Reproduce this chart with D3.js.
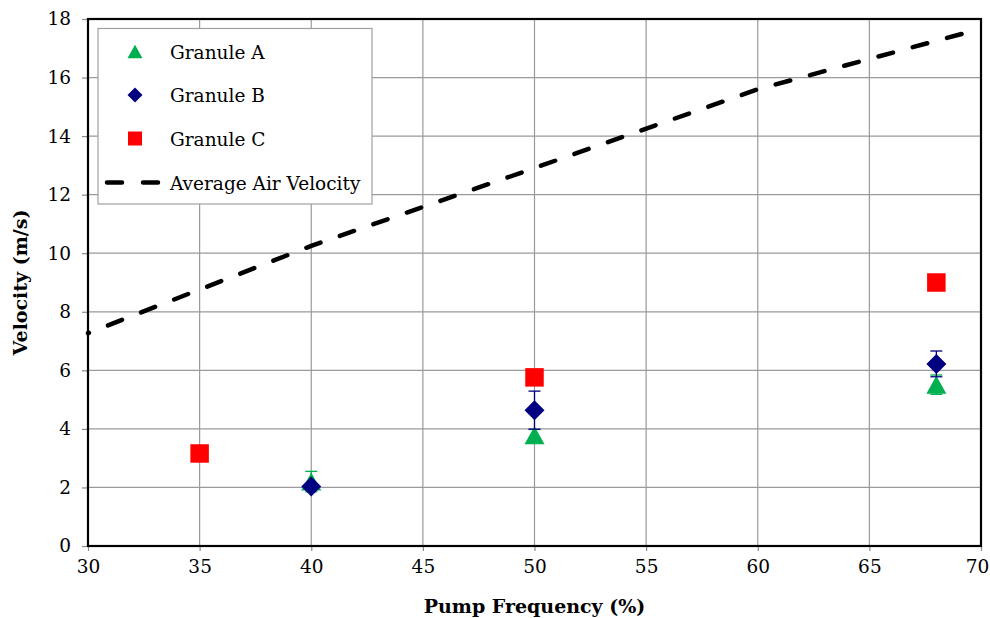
<!DOCTYPE html>
<html>
<head>
<meta charset="utf-8">
<script src="https://cdn.jsdelivr.net/npm/d3@7"></script>
<style>
  body { margin: 0; background: #fff; }
</style>
</head>
<body>
<div id="chart"></div>
<script>
// pump frequency (%) and measured velocities (m/s)
const granuleA = [
  { x: 40, y: 2.2, err: 0.35 },
  { x: 50, y: 3.78, err: 0.2 },
  { x: 68, y: 5.51, err: 0.33 },
];
const granuleB = [
  { x: 40, y: 2.03, err: 0.1 },
  { x: 50, y: 4.64, err: 0.65 },
  { x: 68, y: 6.22, err: 0.44 },
];
const granuleC = [
  { x: 35, y: 3.16, err: 0 },
  { x: 50, y: 5.76, err: 0 },
  { x: 68, y: 9.0, err: 0 },
];
const airFreq = [30, 40, 50, 60, 70];
const airVelocity = [7.27, 10.25, 12.91, 15.6, 17.67];

const xTicks = [30, 35, 40, 45, 50, 55, 60, 65, 70];
const yTicks = [0, 2, 4, 6, 8, 10, 12, 14, 16, 18];

// no Times here, DejaVu Serif is the closest serif face
const FONT = "'DejaVu Serif', serif";

const W = 990;
const H = 618;
const margin = { top: 19, right: 9, bottom: 72, left: 88 };
const width = W - margin.left - margin.right;
const height = H - margin.top - margin.bottom;

const svg = d3
  .select('#chart')
  .append('svg')
  .attr('width', W)
  .attr('height', H)
  .style('display', 'block')
  .attr('font-family', FONT);

const g = svg
  .append('g')
  .attr('transform', `translate(${margin.left},${margin.top})`);

const x = d3.scaleLinear().domain([30, 70]).range([0, width]);
const y = d3.scaleLinear().domain([0, 18]).range([height, 0]);

// grid
g.append('g')
  .selectAll('line')
  .data(xTicks)
  .join('line')
  .attr('x1', (d) => x(d))
  .attr('x2', (d) => x(d))
  .attr('y1', 0)
  .attr('y2', height)
  .attr('stroke', '#9a9a9a')
  .attr('stroke-width', 1.2);

g.append('g')
  .selectAll('line')
  .data(yTicks)
  .join('line')
  .attr('x1', 0)
  .attr('x2', width)
  .attr('y1', (d) => y(d))
  .attr('y2', (d) => y(d))
  .attr('stroke', '#9a9a9a')
  .attr('stroke-width', 1.2);

// axes
const xAxis = g
  .append('g')
  .attr('transform', `translate(0,${height})`)
  .call(d3.axisBottom(x).tickValues(xTicks).tickSize(5).tickPadding(9));
const yAxis = g
  .append('g')
  .call(d3.axisLeft(y).tickValues(yTicks).tickSize(6).tickPadding(11));

[xAxis, yAxis].forEach((a) => {
  a.attr('font-family', FONT);
  a.select('.domain').remove();
  a.selectAll('line').attr('stroke', '#8a8a8a').attr('stroke-width', 1.2);
  a.selectAll('text')
    .attr('font-size', 18.5)
    .attr('fill', '#000');
});

// keep the last x label inside the page
xAxis.selectAll('text').filter((d) => d === 70).attr('dx', -4);

// plot frame
g.append('rect')
  .attr('width', width)
  .attr('height', height)
  .attr('fill', 'none')
  .attr('stroke', '#000')
  .attr('stroke-width', 2.2);

// axis titles
svg
  .append('text')
  .attr('x', margin.left + width / 2)
  .attr('y', 613)
  .attr('text-anchor', 'middle')
  .attr('font-weight', 'bold')
  .attr('font-size', 19)
  .text('Pump Frequency (%)');

svg
  .append('text')
  .attr('transform', `translate(27,${margin.top + height / 2}) rotate(-90)`)
  .attr('text-anchor', 'middle')
  .attr('font-weight', 'bold')
  .attr('font-size', 19)
  .text('Velocity (m/s)');

// average air velocity
const line = d3
  .line()
  .x((d, i) => x(airFreq[i]))
  .y((d) => y(d));

g.append('path')
  .datum(airVelocity)
  .attr('d', line)
  .attr('fill', 'none')
  .attr('stroke', '#000')
  .attr('stroke-width', 4.5)
  .attr('stroke-linecap', 'round')
  .attr('stroke-dasharray', '15,20.5')
  .attr('stroke-dashoffset', 14);

// markers
const series = [
  { name: 'Granule A', data: granuleA, color: '#00b050', shape: 'tri', size: 20 },
  { name: 'Granule B', data: granuleB, color: '#000080', shape: 'dia', size: 20 },
  { name: 'Granule C', data: granuleC, color: '#ff0000', shape: 'sq', size: 18.5 },
];

const markerPath = (shape, s) => {
  const h = s / 2;
  if (shape === 'tri') return `M0,${-h * 0.9}L${h},${h * 0.9}L${-h},${h * 0.9}Z`;
  if (shape === 'dia') return `M0,${-h}L${h},0L0,${h}L${-h},0Z`;
  return `M${-h},${-h}H${h}V${h}H${-h}Z`;
};

series.forEach((s) => {
  const grp = g.append('g');
  const withErr = s.data.filter((d) => d.err > 0);
  grp.selectAll('line.v')
    .data(withErr)
    .join('line')
    .attr('class', 'v')
    .attr('x1', (d) => x(d.x))
    .attr('x2', (d) => x(d.x))
    .attr('y1', (d) => y(d.y - d.err))
    .attr('y2', (d) => y(d.y + d.err))
    .attr('stroke', s.color)
    .attr('stroke-width', 1.3);
  [-1, 1].forEach((sign) => {
    grp.selectAll(`line.c${sign}`)
      .data(withErr)
      .join('line')
      .attr('class', `c${sign}`)
      .attr('x1', (d) => x(d.x) - 6)
      .attr('x2', (d) => x(d.x) + 6)
      .attr('y1', (d) => y(d.y + sign * d.err))
      .attr('y2', (d) => y(d.y + sign * d.err))
      .attr('stroke', s.color)
      .attr('stroke-width', 1.3);
  });
  grp.selectAll('path')
    .data(s.data)
    .join('path')
    .attr('transform', (d) => `translate(${x(d.x)},${y(d.y)})`)
    .attr('d', markerPath(s.shape, s.size))
    .attr('fill', s.color);
});

// legend
const legend = svg.append('g').attr('transform', 'translate(98,28.5)');
legend
  .append('rect')
  .attr('width', 274)
  .attr('height', 175.5)
  .attr('fill', '#fff')
  .attr('stroke', '#a0a0a0')
  .attr('stroke-width', 1.2);

const rowsY = [23, 66.5, 110, 154];
series.forEach((s, i) => {
  legend
    .append('path')
    .attr('transform', `translate(37,${rowsY[i]})`)
    .attr('d', markerPath(s.shape, s.shape === 'sq' ? 14 : 15))
    .attr('fill', s.color);
  legend
    .append('text')
    .attr('x', 72)
    .attr('y', rowsY[i] + 7)
    .attr('font-size', 18.5)
    .text(s.name);
});

legend
  .append('line')
  .attr('x1', 9)
  .attr('x2', 64)
  .attr('y1', rowsY[3])
  .attr('y2', rowsY[3])
  .attr('stroke', '#000')
  .attr('stroke-width', 4.5)
  .attr('stroke-linecap', 'round')
  .attr('stroke-dasharray', '15,21');
legend
  .append('text')
  .attr('x', 72)
  .attr('y', rowsY[3] + 7)
  .attr('font-size', 18.5)
  .text('Average Air Velocity');
</script>
</body>
</html>
